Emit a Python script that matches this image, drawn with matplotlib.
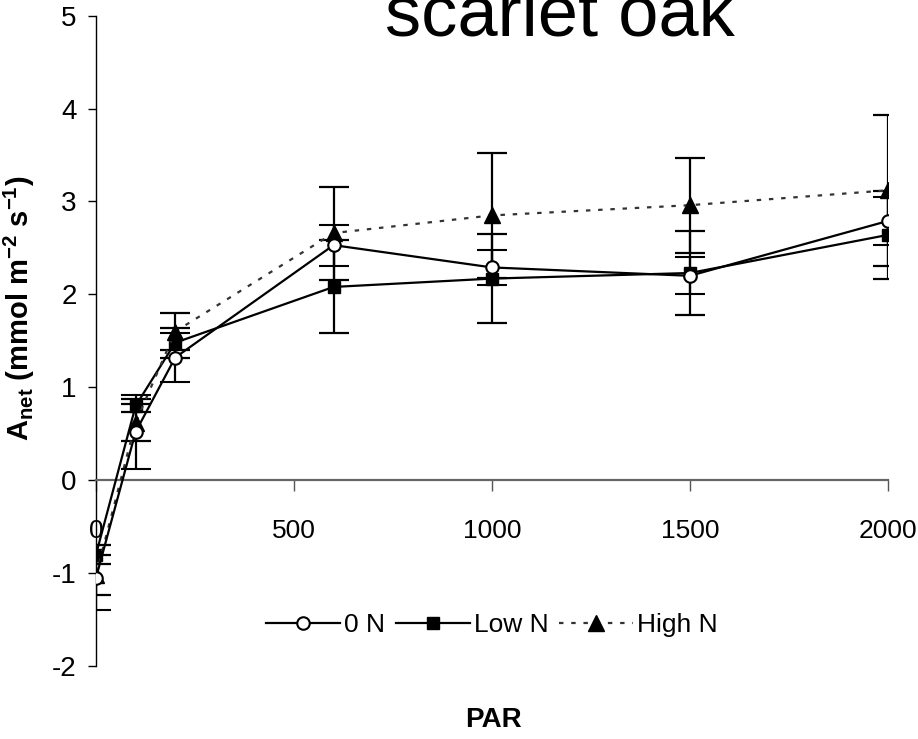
import matplotlib
matplotlib.use("Agg")
import matplotlib.pyplot as plt

# light response of scarlet oak under three N treatments
par = [0, 100, 200, 600, 1000, 1500, 2000]
an_0n = [-1.05, 0.52, 1.32, 2.53, 2.29, 2.20, 2.79]
se_0n = [0.35, 0.40, 0.26, 0.22, 0.19, 0.20, 0.26]
an_low = [-0.80, 0.80, 1.48, 2.08, 2.17, 2.23, 2.64]
se_low = [0.10, 0.07, 0.16, 0.50, 0.48, 0.45, 0.47]
an_high = [-1.02, 0.62, 1.60, 2.66, 2.85, 2.96, 3.12]
se_high = [0.22, 0.20, 0.20, 0.50, 0.67, 0.51, 0.81]
labels = ["0 N", "Low N", "High N"]

plt.rcParams.update({
    "font.family": ["Liberation Sans", "DejaVu Sans"],
    "axes.unicode_minus": False,
    "mathtext.fontset": "custom",
    "mathtext.rm": "Liberation Sans",
    "mathtext.bf": "Liberation Sans:bold",
})

fig = plt.figure(figsize=(9.18, 7.39), dpi=100)
ax = fig.add_axes([0.1046, 0.0988, 0.8625, 0.88])

common = dict(capsize=11, capthick=1.6, elinewidth=1.6, ecolor="black", lw=1.6)
c0 = ax.errorbar(par, an_0n, yerr=se_0n, color="black", marker="o", ms=9,
                 mfc="white", mec="black", mew=1.5, zorder=4, **common)
c1 = ax.errorbar(par, an_low, yerr=se_low, color="black", marker="s", ms=8,
                 mfc="black", mec="black", zorder=3, **common)
c2 = ax.errorbar(par, an_high, yerr=se_high, color="#333333", marker="^", ms=11,
                 mfc="black", mec="black", ls=(0, (2, 3.5)), zorder=3, **common)

ax.set_xlim(0, 2000)
ax.set_ylim(-2, 5)
ax.set_xticks([0, 500, 1000, 1500, 2000])
ax.set_yticks(range(-2, 6))

ax.spines["top"].set_visible(False)
ax.spines["right"].set_visible(False)
ax.spines["left"].set_linewidth(1.0)
ax.spines["bottom"].set_position(("data", 0))
ax.spines["bottom"].set_color("#666666")
ax.spines["bottom"].set_linewidth(1.6)
ax.tick_params(axis="x", direction="out", length=8, width=1, color="#555555",
               pad=20, labelsize=19)
ax.tick_params(axis="y", direction="out", length=6, width=1, pad=8, labelsize=20)

ax.set_ylabel(r"A$_{\mathbf{net}}$ (mmol m$^{\mathbf{-2}}$ s$^{\mathbf{-1}}$)",
              fontsize=21, weight="bold")
ax.yaxis.set_label_coords(-0.074, 0.55)

fig.text(493 / 918, (739 - 720) / 739, "PAR", ha="center", va="center",
         fontsize=20, weight="bold")
fig.text(0.61, (739 - 36) / 739, "scarlet oak", ha="center", va="baseline",
         fontsize=52)

ax.legend(handles=[c0[0], c1[0], c2[0]], labels=labels, loc="center",
          bbox_to_anchor=(0.5, 0.063), ncol=3, frameon=False, fontsize=19,
          handlelength=2.8, handletextpad=0.15, columnspacing=0.4)

fig.savefig("out.png", dpi=100, facecolor="white")
